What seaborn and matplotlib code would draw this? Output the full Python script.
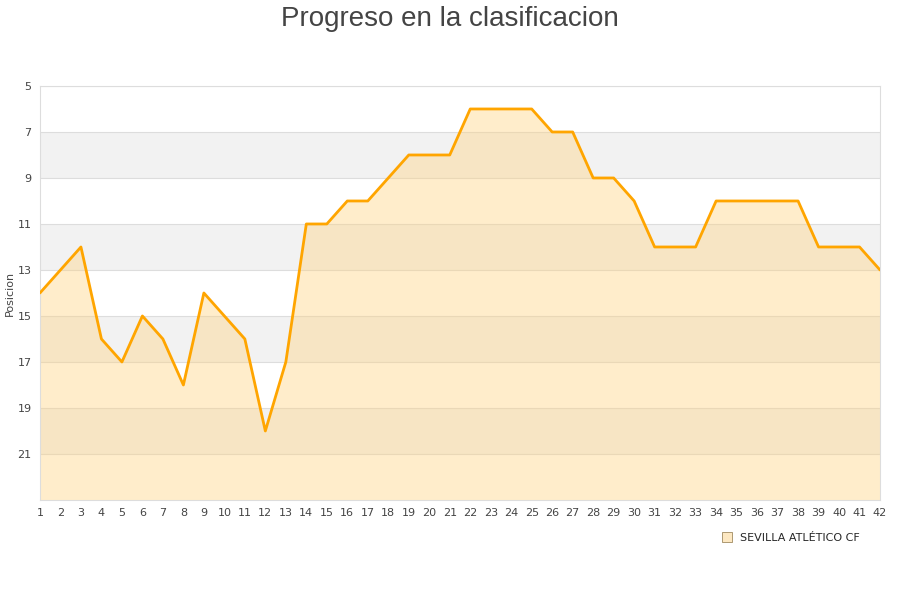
import numpy as np
import pandas as pd
import matplotlib
matplotlib.use("Agg")
import matplotlib.pyplot as plt
import seaborn as sns
from matplotlib.lines import Line2D

sns.set_theme(style="white")
plt.rcParams['font.family'] = ['DejaVu Sans']

# Data: position per matchday
jornadas = list(range(1, 43))
posiciones = [14, 13, 12, 16, 17, 15, 16, 18, 14, 15, 16, 20, 17, 11, 11, 10, 10, 9, 8, 8, 8,
              6, 6, 6, 6, 7, 7, 9, 9, 10, 12, 12, 12, 10, 10, 10, 10, 10, 12, 12, 12, 13]
equipo = "SEVILLA ATLÉTICO CF"
y_ticks = [5, 7, 9, 11, 13, 15, 17, 19, 21]

df = pd.DataFrame({"Jornada": jornadas, "Posicion": posiciones})

fig = plt.figure(figsize=(9, 6), dpi=100)
ax = fig.add_axes([0.0444, 0.1667, 0.9334, 0.69])

# alternating bands
for lo in [7, 11, 15, 19]:
    ax.axhspan(lo, lo + 2, color="#f2f2f2", zorder=0, lw=0)
for t in y_ticks:
    ax.axhline(t, color="#dddddd", lw=0.8, zorder=1)

ax.fill_between(df["Jornada"], df["Posicion"], 23, color="#ffd27f", alpha=0.4, lw=0, zorder=2)
sns.lineplot(data=df, x="Jornada", y="Posicion", color="#ffa500", lw=2, ax=ax, zorder=3)

ax.set_xlim(1, 42)
ax.set_ylim(23, 5)
ax.set_yticks(y_ticks)
ax.set_xticks(jornadas)
ax.tick_params(axis="both", labelsize=8, colors="#444444", length=0, pad=6)
ax.set_xlabel("")
ax.set_ylabel("Posicion", fontsize=8, color="#444444", labelpad=2)
for s in ax.spines.values():
    s.set_color("#dddddd")
    s.set_linewidth(0.8)

fig.suptitle("Progreso en la clasificacion", fontsize=20, color="#444444", y=0.99,
             family="Liberation Sans")

handle = Line2D([], [], marker="s", ls="none", markersize=7, markerfacecolor="#fde8c2",
                markeredgecolor="#a08a60", markeredgewidth=0.6)
fig.legend([handle], [equipo], loc="center left", bbox_to_anchor=(0.784, 0.103),
           frameon=False, fontsize=8, handletextpad=0.2)

fig.savefig("out.png", dpi=100)
